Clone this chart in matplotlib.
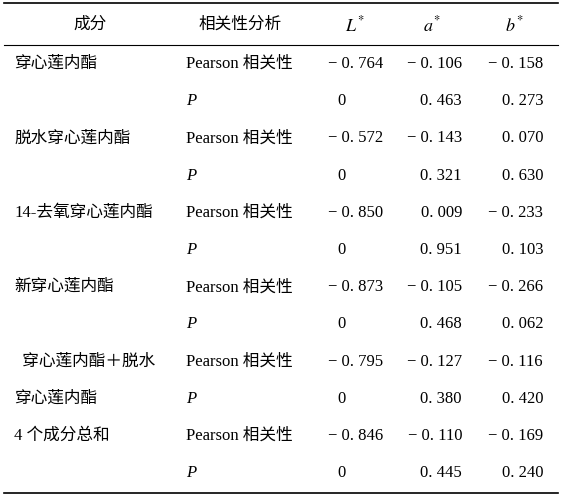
import matplotlib.pyplot as plt

plt.rcParams['font.family'] = ['Liberation Serif', 'Noto Sans CJK SC', 'DejaVu Sans']
plt.rcParams['mathtext.fontset'] = 'stix'

components = ['穿心莲内酯', '脱水穿心莲内酯', '14-去氧穿心莲内酯', '新穿心莲内酯',
              '  穿心莲内酯＋脱水', '4 个成分总和']
comp_second = {4: '穿心莲内酯'}
L_r = ['− 0. 764', '− 0. 572', '− 0. 850', '− 0. 873', '− 0. 795', '− 0. 846']
a_r = ['− 0. 106', '− 0. 143', '0. 009', '− 0. 105', '− 0. 127', '− 0. 110']
b_r = ['− 0. 158', '0. 070', '− 0. 233', '− 0. 266', '− 0. 116', '− 0. 169']
L_p = ['0', '0', '0', '0', '0', '0']
a_p = ['0. 463', '0. 321', '0. 951', '0. 468', '0. 380', '0. 445']
b_p = ['0. 273', '0. 630', '0. 103', '0. 062', '0. 420', '0. 240']

fig = plt.figure(figsize=(5.62, 4.97), dpi=100)
ax = fig.add_axes([0, 0, 1, 1])
ax.set_xlim(0, 562)
ax.set_ylim(497, 0)
ax.axis('off')

fs = 12
ax.plot([4, 558], [3, 3], color='black', lw=1.2)
ax.plot([4, 558], [45, 45], color='black', lw=0.8)
ax.plot([4, 558], [493, 493], color='black', lw=1.2)

ax.text(90, 25, '成分', ha='center', va='center', fontsize=fs)
ax.text(240, 25, '相关性分析', ha='center', va='center', fontsize=fs)
ax.text(355, 25, r'$L^{*}$', ha='center', va='center', fontsize=fs + 1)
ax.text(432, 25, r'$a^{*}$', ha='center', va='center', fontsize=fs + 1)
ax.text(514, 25, r'$b^{*}$', ha='center', va='center', fontsize=fs + 1)

y0, dy = 64, 37.2
for i in range(6):
    y1 = y0 + 2 * i * dy
    y2 = y1 + dy
    ax.text(14, y1, components[i], ha='left', va='center', fontsize=fs)
    if i in comp_second:
        ax.text(14, y2, comp_second[i], ha='left', va='center', fontsize=fs)
    ax.text(186, y1, 'Pearson 相关性', ha='left', va='center', fontsize=fs)
    ax.text(186, y2, 'P', ha='left', va='center', fontsize=fs, style='italic')
    ax.text(383, y1, L_r[i], ha='right', va='center', fontsize=fs)
    ax.text(462, y1, a_r[i], ha='right', va='center', fontsize=fs)
    ax.text(543, y1, b_r[i], ha='right', va='center', fontsize=fs)
    ax.text(346, y2, L_p[i], ha='right', va='center', fontsize=fs)
    ax.text(462, y2, a_p[i], ha='right', va='center', fontsize=fs)
    ax.text(543, y2, b_p[i], ha='right', va='center', fontsize=fs)

fig.savefig('out.png', dpi=100)
